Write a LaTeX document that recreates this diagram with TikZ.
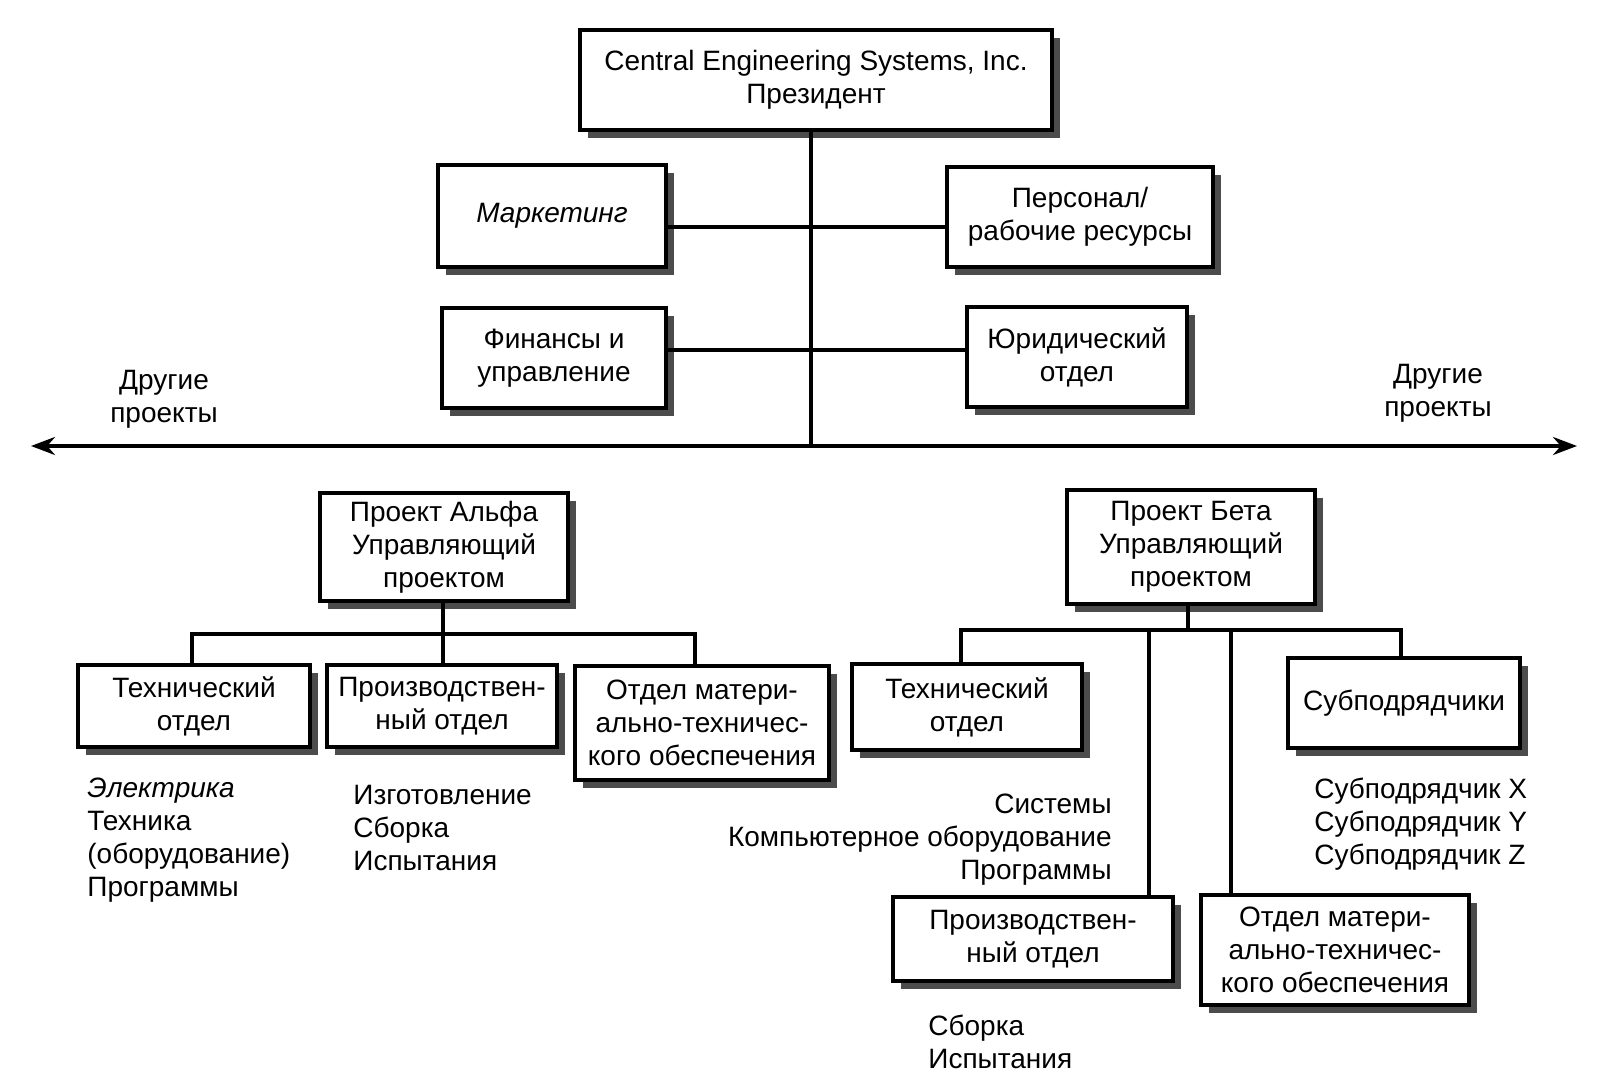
\documentclass[tikz,border=0pt]{standalone}
\usepackage{fontspec}
\setmainfont{Liberation Sans}
\usepackage{tikz}
\usetikzlibrary{shadows,arrows.meta,calc}

\tikzset{
  unitbox/.style={draw, line width=1.8pt, fill=white, align=center, inner sep=0pt,
    drop shadow={shadow xshift=4pt, shadow yshift=-4pt, fill=black!70, opacity=1}},
  link/.style={line width=1.8pt},
  listtext/.style={inner sep=0pt},
}

\begin{document}
\begin{tikzpicture}[x=0.5pt, y=-0.5pt, font=\fontsize{14}{16.5}\selectfont]
        \useasboundingbox (0,0) rectangle (1606,1092);

        % head office
        \node[unitbox, minimum width=236pt, minimum height=50pt] (pres) at (816,80) {Central Engineering Systems, Inc.\\Президент};
        \node[unitbox, minimum width=114pt, minimum height=51pt] (mkt) at (552,216) {\itshape Маркетинг};
        \node[unitbox, minimum width=133pt, minimum height=50pt] (pers) at (1080,217) {Персонал/\\рабочие ресурсы};
        \node[unitbox, minimum width=112pt, minimum height=50pt] (fin) at (554,358) {Финансы и\\управление};
        \node[unitbox, minimum width=110pt, minimum height=50pt] (legal) at (1077,357) {Юридический\\отдел};

        \coordinate (hub) at (811,446);
        \coordinate (wl) at (31,446);
        \coordinate (wr) at (1577,446);
        \draw[link, {Stealth[length=12pt,width=9pt]}-{Stealth[length=12pt,width=9pt]}] (wl) -- (wr);
        \draw[link] (pres.south -| hub) -- (hub);
        \draw[link] ([yshift=-5.5pt]mkt.east) -- ([yshift=-5.5pt]mkt.east -| pers.west);
        \draw[link] ([yshift=4pt]fin.east) -- ([yshift=4pt]fin.east -| legal.west);

        \node[align=center] (otherl) at (164,399) {Другие\\проекты};
        \node[align=center] (otherr) at (1438,393) {Другие\\проекты};

        % project alpha
        \node[unitbox, minimum width=124pt, minimum height=54pt] (alpha) at (444,547) {Проект Альфа\\Управляющий\\проектом};
        \node[unitbox, minimum width=116pt, minimum height=41pt] (atech) at (194,706) {Технический\\отдел};
        \node[unitbox, minimum width=115pt, minimum height=41pt] (aprod) at (442,706) {Производствен-\\ный отдел};
        \node[unitbox, minimum width=127pt, minimum height=57pt] (alog) at (702,723) {Отдел матери-\\ально-техничес-\\кого обеспечения};

        \coordinate (abar) at (443,634);
        \draw[link] (alpha.south -| abar) -- (abar) -- (aprod.north -| abar);
        \draw[link] ([xshift=-1pt]atech.north) |- (abar) -| ([xshift=-3.5pt]alog.north);

        \node[listtext, anchor=north west, align=left] (atechlist) at (87,778) {\itshape Электрика\\Техника\\(оборудование)\\Программы};
        \node[listtext, anchor=north west, align=left] (aprodlist) at (353,785) {Изготовление\\Сборка\\Испытания};

        % project beta
        \node[unitbox, minimum width=124pt, minimum height=57pt] (beta) at (1191,547) {Проект Бета\\Управляющий\\проектом};
        \node[unitbox, minimum width=115pt, minimum height=43pt] (btech) at (967,707) {Технический\\отдел};
        \node[unitbox, minimum width=116pt, minimum height=45pt] (bsub) at (1404,703) {Субподрядчики};
        \node[unitbox, minimum width=140pt, minimum height=42pt] (bprod) at (1033,939) {Производствен-\\ный отдел};
        \node[unitbox, minimum width=134pt, minimum height=55pt] (blog) at (1335,950) {Отдел матери-\\ально-техничес-\\кого обеспечения};

        \coordinate (bbar) at (1188,630);
        \coordinate (bprodtop) at (1149,630);
        \coordinate (blogtop) at (1231,630);
        \draw[link] (beta.south -| bbar) -- (bbar);
        \draw[link] ([xshift=-3pt]btech.north) |- (bbar) -| ([xshift=-1.5pt]bsub.north);
        \draw[link] (bprodtop) -- (bprodtop |- bprod.north);
        \draw[link] (blogtop) -- (blogtop |- blog.north);

        \node[listtext, anchor=north east, align=right] (btechlist) at (1112,794) {Системы\\Компьютерное оборудование\\Программы};
        \node[listtext, anchor=north west, align=left] (bsublist) at (1314,778) {Субподрядчик X\\Субподрядчик Y\\Субподрядчик Z};
        \node[listtext, anchor=north west, align=left] (bprodlist) at (928,1015) {Сборка\\Испытания};
\end{tikzpicture}
\end{document}
